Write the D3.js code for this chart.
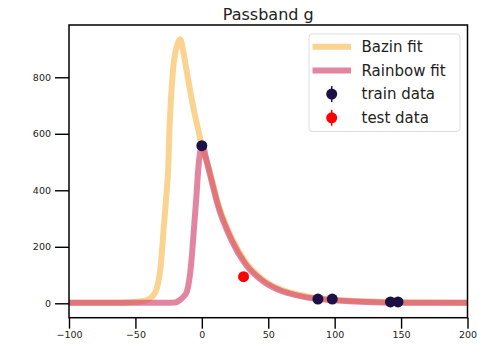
<!DOCTYPE html>
<html>
<head>
<meta charset="utf-8">
<script src="https://cdn.jsdelivr.net/npm/d3@7"></script>
<style>
  body { margin: 0; background: #fff; }
  text { font-family: "DejaVu Sans", sans-serif; }
</style>
</head>
<body>
<svg id="vis-svg"></svg>
<script>
// Bazin fit curve
const bazinT = [-100, -60, -46.5, -39, -36, -33.9, -30.9, -28.9, -26.9, -25.2, -24.4, -23.1, -21.2, -18.7, -16.4, -14.3, -12.4, -10.6, -8.8, -6.9, -5, -2.5, 0, 6.2, 12.5, 22.6, 32.6, 45.2, 59, 71.6, 85.4, 99, 124, 160, 200];
const bazinF = [2, 2, 6, 17, 31, 53, 136, 253, 371, 490, 613, 732, 849, 912, 935, 900, 850, 800, 752, 705, 662, 610, 558, 463, 349, 231, 148, 87, 50, 32, 19, 13, 7, 3, 2];

// Rainbow fit curve
const rainbowT = [-100, -30, -20, -16.4, -13.5, -11.3, -8.1, -6.1, -4.2, -2.4, -1, 0.5, 3, 6.2, 12.5, 22.6, 32.6, 45.2, 59, 71.6, 85.4, 99, 124, 160, 200];
const rainbowF = [2, 2, 3, 12, 25, 41, 136, 253, 371, 490, 543, 563, 517, 455, 340, 221, 140, 81, 45, 28, 16, 11, 5, 2, 2];

// observations
const trainT = [0, 87.4, 98.2, 142, 147.7];
const trainF = [558, 15, 15, 5, 5];
const testT = [31.4];
const testF = [94];

const xTicks = [-100, -50, 0, 50, 100, 150, 200];
const yTicks = [0, 200, 400, 600, 800];

const W = 477, H = 347;
const margin = {top: 25, right: 9.5, bottom: 29.3, left: 69};
const width = W - margin.left - margin.right,
      height = H - margin.top - margin.bottom;

const svg = d3.select("#vis-svg").attr("width", W).attr("height", H);
const g = svg.append("g").attr("transform", "translate(" + margin.left + "," + margin.top + ")");

const x = d3.scaleLinear().domain([-100, 200]).range([0, width]);
const y = d3.scaleLinear().domain([-51, 985]).range([height, 0]);

const bazinColor = "#f9c46b", rainbowColor = "#d3436e";
const trainColor = "#1c1044", testColor = "#ff0000";

g.append("clipPath").attr("id", "clip")
  .append("rect").attr("width", width).attr("height", height);

const line = d3.line()
    .x(d => x(d[0]))
    .y(d => y(d[1]))
    .curve(d3.curveMonotoneX);

const plot = g.append("g").attr("clip-path", "url(#clip)");

plot.append("path")
    .datum(d3.zip(bazinT, bazinF))
    .attr("d", line)
    .attr("fill", "none")
    .attr("stroke", bazinColor)
    .attr("stroke-opacity", 0.75)
    .attr("stroke-width", 6)
    .attr("stroke-linejoin", "round");

plot.append("path")
    .datum(d3.zip(rainbowT, rainbowF))
    .attr("d", line)
    .attr("fill", "none")
    .attr("stroke", rainbowColor)
    .attr("stroke-opacity", 0.65)
    .attr("stroke-width", 6)
    .attr("stroke-linejoin", "round");

plot.selectAll(".train")
    .data(d3.zip(trainT, trainF))
  .enter().append("circle")
    .attr("cx", d => x(d[0]))
    .attr("cy", d => y(d[1]))
    .attr("r", 5.5)
    .attr("fill", trainColor);

plot.selectAll(".test")
    .data(d3.zip(testT, testF))
  .enter().append("circle")
    .attr("cx", d => x(d[0]))
    .attr("cy", d => y(d[1]))
    .attr("r", 5.5)
    .attr("fill", testColor);

// axes
const xAxis = g.append("g")
    .attr("transform", "translate(0," + height + ")")
    .call(d3.axisBottom(x).tickValues(xTicks).tickSize(11).tickPadding(3)
      .tickFormat(d => d < 0 ? "\u2212" + Math.abs(d) : d));
const yAxis = g.append("g")
    .call(d3.axisLeft(y).tickValues(yTicks).tickSize(14).tickPadding(4));

[xAxis, yAxis].forEach(a => {
  a.select(".domain").remove();
  a.selectAll("line").attr("stroke", "#000").attr("stroke-width", 1.4);
  a.selectAll("text").attr("fill", "#222").style("font-size", "9.5px");
});

// frame
g.append("rect")
    .attr("width", width).attr("height", height)
    .attr("fill", "none").attr("stroke", "#000").attr("stroke-width", 1.5);

// title
svg.append("text")
    .attr("x", margin.left + width / 2)
    .attr("y", 19.5)
    .attr("text-anchor", "middle")
    .attr("fill", "#222")
    .style("font-size", "16px")
    .text("Passband g");

// legend
const legend = svg.append("g").attr("transform", "translate(309,34)");
legend.append("rect")
    .attr("width", 151).attr("height", 97.5)
    .attr("rx", 3)
    .attr("fill", "#fff").attr("fill-opacity", 0.8)
    .attr("stroke", "#ddd");

const items = [
  {label: "Bazin fit", type: "line", color: bazinColor, op: 0.75},
  {label: "Rainbow fit", type: "line", color: rainbowColor, op: 0.65},
  {label: "train data", type: "dot", color: trainColor},
  {label: "test data", type: "dot", color: testColor}
];
const row = legend.selectAll(".item")
    .data(items)
  .enter().append("g")
    .attr("transform", (d, i) => "translate(0," + (12.7 + i * 23.7) + ")");

row.filter(d => d.type === "line").append("line")
    .attr("x1", 3.5).attr("x2", 42)
    .attr("stroke", d => d.color).attr("stroke-opacity", d => d.op)
    .attr("stroke-width", 6);

row.filter(d => d.type === "dot").append("line")
    .attr("x1", 22.7).attr("x2", 22.7).attr("y1", -8).attr("y2", 8)
    .attr("stroke", d => d.color).attr("stroke-width", 1.5);
row.filter(d => d.type === "dot").append("circle")
    .attr("cx", 22.7).attr("r", 5.5)
    .attr("fill", d => d.color);

row.append("text")
    .attr("x", 52.5)
    .attr("dy", "0.35em")
    .attr("fill", "#222")
    .style("font-size", "15px")
    .text(d => d.label);
</script>
</body>
</html>
